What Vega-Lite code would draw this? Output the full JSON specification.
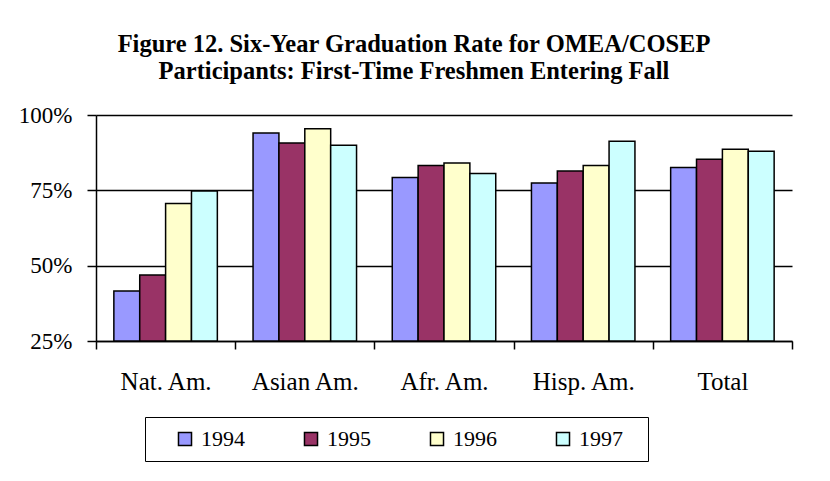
{
  "$schema": "https://vega.github.io/schema/vega-lite/v6.json",
  "width": 696,
  "height": 226,
  "autosize": {"type": "none"},
  "padding": {"left": 96, "top": 115, "right": 38, "bottom": 140},
  "background": "white",
  "title": {
    "text": ["Figure 12. Six-Year Graduation Rate for OMEA/COSEP", "Participants:  First-Time Freshmen Entering Fall"],
    "font": "Liberation Serif",
    "fontSize": 24.5,
    "fontWeight": "bold",
    "color": "black",
    "anchor": "middle",
    "frame": "group",
    "dx": -30,
    "offset": 20,
    "lineHeight": 27
  },
  "data": {
    "values": [
      {"group": "Nat. Am.", "year": "1994", "rate": 41.6},
      {"group": "Nat. Am.", "year": "1995", "rate": 46.9},
      {"group": "Nat. Am.", "year": "1996", "rate": 70.6},
      {"group": "Nat. Am.", "year": "1997", "rate": 74.8},
      {"group": "Asian Am.", "year": "1994", "rate": 94.0},
      {"group": "Asian Am.", "year": "1995", "rate": 90.7},
      {"group": "Asian Am.", "year": "1996", "rate": 95.4},
      {"group": "Asian Am.", "year": "1997", "rate": 90.0},
      {"group": "Afr. Am.", "year": "1994", "rate": 79.3},
      {"group": "Afr. Am.", "year": "1995", "rate": 83.2},
      {"group": "Afr. Am.", "year": "1996", "rate": 84.1},
      {"group": "Afr. Am.", "year": "1997", "rate": 80.6},
      {"group": "Hisp. Am.", "year": "1994", "rate": 77.4},
      {"group": "Hisp. Am.", "year": "1995", "rate": 81.4},
      {"group": "Hisp. Am.", "year": "1996", "rate": 83.2},
      {"group": "Hisp. Am.", "year": "1997", "rate": 91.3},
      {"group": "Total", "year": "1994", "rate": 82.6},
      {"group": "Total", "year": "1995", "rate": 85.3},
      {"group": "Total", "year": "1996", "rate": 88.6},
      {"group": "Total", "year": "1997", "rate": 88.0}
    ]
  },
  "mark": {"type": "bar", "stroke": "black", "strokeWidth": 1.5},
  "encoding": {
    "x": {
      "field": "group",
      "type": "nominal",
      "sort": ["Nat. Am.", "Asian Am.", "Afr. Am.", "Hisp. Am.", "Total"],
      "scale": {"paddingInner": 0, "paddingOuter": 0},
      "axis": {
        "title": null,
        "labelAngle": 0,
        "tickBand": "extent",
        "labelFont": "Liberation Serif",
        "labelFontSize": 25,
        "labelColor": "black",
        "domainColor": "black",
        "domainWidth": 1.5,
        "tickColor": "black",
        "tickWidth": 1.5,
        "tickSize": 8,
        "labelPadding": 20,
        "grid": false
      }
    },
    "xOffset": {
      "field": "year",
      "type": "nominal",
      "scale": {"paddingInner": 0, "paddingOuter": 0.69}
    },
    "y": {
      "field": "rate",
      "type": "quantitative",
      "scale": {"domain": [25, 100], "zero": false, "nice": false},
      "axis": {
        "title": null,
        "values": [25, 50, 75, 100],
        "labelExpr": "datum.value + '%'",
        "labelFont": "Liberation Serif",
        "labelFontSize": 23,
        "labelColor": "black",
        "labelPadding": 15,
        "domainColor": "black",
        "domainWidth": 1.5,
        "tickColor": "black",
        "tickWidth": 1.5,
        "tickSize": 9,
        "grid": true,
        "gridColor": "black",
        "gridWidth": 1.5,
        "gridOpacity": 1
      }
    },
    "y2": {"datum": 25},
    "color": {
      "field": "year",
      "type": "nominal",
      "scale": {"domain": ["1994", "1995", "1996", "1997"], "range": ["#9999FF", "#993366", "#FFFFCC", "#CCFFFF"]},
      "legend": {
        "title": " ",
        "titleOrient": "right",
        "titlePadding": 14,
        "titleFont": "Liberation Serif",
        "titleFontSize": 10,
        "orient": "none",
        "legendX": 49,
        "legendY": 302,
        "direction": "horizontal",
        "columns": 4,
        "symbolType": "square",
        "symbolSize": 170,
        "symbolOffset": 18,
        "symbolStrokeColor": "black",
        "symbolStrokeWidth": 1.5,
        "labelFont": "Liberation Serif",
        "labelFontSize": 22,
        "labelColor": "black",
        "labelOffset": 5,
        "columnPadding": 37,
        "padding": 11,
        "strokeColor": "black",
        "fillColor": "white"
      }
    }
  },
  "config": {
    "view": {"stroke": null},
    "legend": {"symbolOpacity": 1, "labelFont": "Liberation Serif"}
  }
}
